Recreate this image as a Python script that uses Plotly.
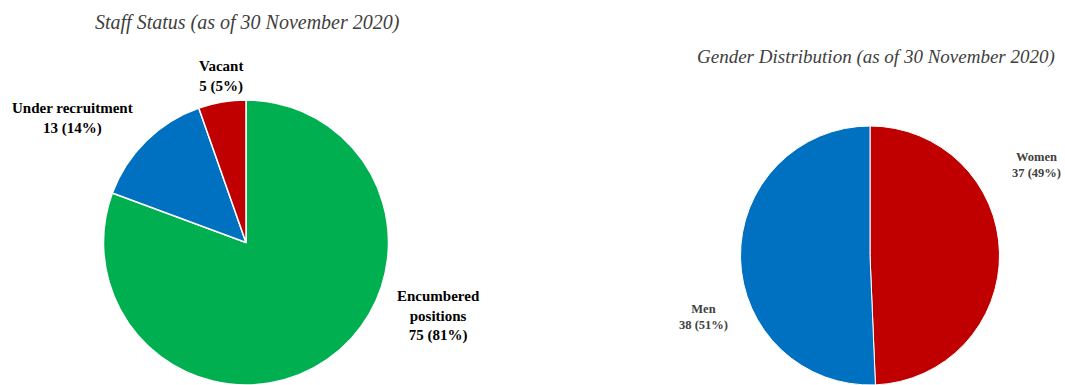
import plotly.graph_objects as go

# Staff status breakdown
staff_labels = ["Encumbered positions", "Under recruitment", "Vacant"]
staff_values = [75, 13, 5]
staff_colors = ["#00B050", "#0070C0", "#C00000"]

# Gender breakdown
gender_labels = ["Women", "Men"]
gender_values = [37, 38]
gender_colors = ["#C00000", "#0070C0"]

W, H = 1065, 385
SERIF = "Liberation Serif, Times New Roman, serif"


def px(x):
    return x / W


def py(y):
    return 1 - y / H


def pct(v, total):
    return round(100 * v / total)


fig = go.Figure()

fig.add_trace(go.Pie(
    labels=staff_labels, values=staff_values, sort=False,
    direction="clockwise", rotation=0,
    marker=dict(colors=staff_colors, line=dict(color="white", width=1.5)),
    textinfo="none", hoverinfo="label+value+percent", showlegend=False,
    domain=dict(x=[px(103), px(389)], y=[0, py(100)]),
))

fig.add_trace(go.Pie(
    labels=gender_labels, values=gender_values, sort=False,
    direction="clockwise", rotation=0,
    marker=dict(colors=gender_colors, line=dict(color="white", width=1)),
    textinfo="none", hoverinfo="label+value+percent", showlegend=False,
    domain=dict(x=[px(738), px(1002)], y=[0, py(126)]),
))

staff_total = sum(staff_values)
gender_total = sum(gender_values)

# label text and pixel centres for each slice
staff_text = {
    "Encumbered positions": ("Encumbered<br>positions", 438, 316),
    "Under recruitment": ("Under recruitment", 72.5, 118.5),
    "Vacant": ("Vacant", 221, 76),
}
gender_text = {
    "Women": ("Women", 1036, 165),
    "Men": ("Men", 703, 317),
}

annotations = []
for lab, val in zip(staff_labels, staff_values):
    head, x, y = staff_text[lab]
    annotations.append(dict(
        text=f"<b>{head}<br>{val} ({pct(val, staff_total)}%)</b>",
        x=px(x), y=py(y), xref="paper", yref="paper",
        xanchor="center", yanchor="middle", showarrow=False,
        font=dict(family=SERIF, size=15, color="#000000"),
    ))
for lab, val in zip(gender_labels, gender_values):
    head, x, y = gender_text[lab]
    annotations.append(dict(
        text=f"<b>{head}<br>{val} ({pct(val, gender_total)}%)</b>",
        x=px(x), y=py(y), xref="paper", yref="paper",
        xanchor="center", yanchor="middle", showarrow=False,
        font=dict(family=SERIF, size=12.5, color="#404040"),
    ))

annotations.append(dict(
    text="<i>Staff Status (as of 30 November 2020)</i>",
    x=px(247.5), y=py(22), xref="paper", yref="paper",
    xanchor="center", yanchor="middle", showarrow=False,
    font=dict(family=SERIF, size=20, color="#404040"),
))
annotations.append(dict(
    text="<i>Gender Distribution (as of 30 November 2020)</i>",
    x=px(875.5), y=py(57), xref="paper", yref="paper",
    xanchor="center", yanchor="middle", showarrow=False,
    font=dict(family=SERIF, size=19, color="#404040"),
))

fig.update_layout(
    width=W, height=H,
    margin=dict(l=0, r=0, t=0, b=0),
    paper_bgcolor="white", plot_bgcolor="white",
    annotations=annotations,
)

fig.write_html("out.html")
